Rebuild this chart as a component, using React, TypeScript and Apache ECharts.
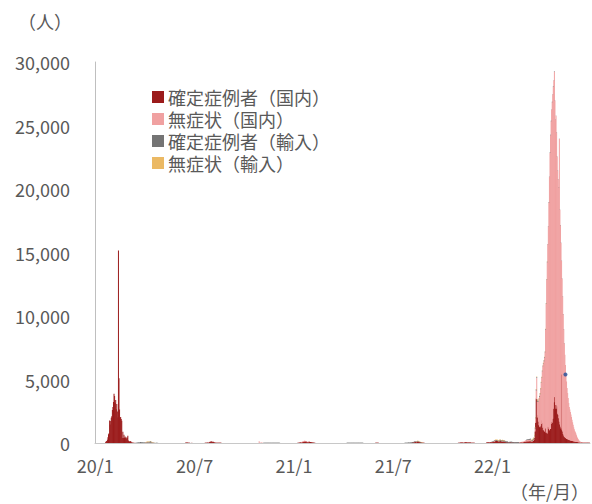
import React, { useEffect, useRef } from "react";
import * as echarts from "echarts";

// Daily series, one category per day
const FIRST_DAY = "2020-01-01";
const LAST_DAY = "2022-06-15";

const yMax = 30000;
const yStep = 5000;
const xTickLabels = ["20/1", "20/7", "21/1", "21/7", "22/1"];
const xTickEvery = 180;

const seriesNames = ["確定症例者（国内）", "無症状（国内）", "確定症例者（輸入）", "無症状（輸入）"];
const seriesColors = ["#9b1b1b", "#f0a1a1", "#747474", "#ebb964"];

// Each run: [first date, daily counts from that date on]
type Run = [string, number[]];

const domesticConfirmed: Run[] = [
  ["2020-01-20", [77, 149, 131, 259, 444, 688, 769, 1771, 1459, 1737, 1982, 2102, 2590, 2829, 3235, 3887, 3694, 3143, 3385, 2652, 3073, 2478, 2015, 15152, 5090, 2641, 2009, 2048, 1886, 1749, 394, 889, 397, 648, 409, 508, 406, 433, 327, 427, 573, 202, 125, 119, 139, 143, 99, 44, 40, 19, 24, 15, 8, 11, 1, 0, 4]],
  ["2020-06-11", [1, 6, 31, 36, 27, 31, 21, 25, 22, 13, 9, 7, 3, 11, 7, 5, 2, 2]],
  ["2020-07-18", [13, 22, 14, 17, 36, 21, 22, 43, 61, 98, 101, 112, 123, 96, 86, 94, 62, 41, 35, 27, 24, 21, 19, 14, 22, 20, 21, 13, 12, 11]],
  ["2021-01-02", [11, 17, 14, 24, 54, 40, 52, 41, 55, 69, 82, 107, 124, 130, 115, 109, 90, 63, 88, 68, 103, 99, 79, 71, 52, 53, 42, 31, 40, 22, 20, 10]],
  ["2021-05-21", [5, 9, 12, 15, 20, 14, 11, 10, 7, 5]],
  ["2021-07-28", [31, 48, 55, 40, 61, 75, 71, 85, 62, 80, 94, 108, 96, 81, 53, 58, 46, 39, 30, 28, 20, 21, 17, 9, 4]],
  ["2021-10-20", [13, 19, 28, 26, 35, 38, 39, 33, 48, 23, 26, 38, 47, 54, 74, 45, 46, 47, 45, 42, 35, 34, 31, 20, 19, 14, 23, 15, 19, 21]],
  ["2021-12-10", [47, 22, 50, 43, 57, 46, 38, 51, 55, 56, 65, 70, 72, 92, 108, 112, 168, 182, 158, 155, 151, 122, 118, 101, 168, 175, 131, 121, 97, 127, 110, 97, 104, 92, 78, 68, 56, 63, 61, 37, 33, 52, 43, 65, 63, 40, 44, 38, 45, 31, 29, 24, 21, 25, 26, 18, 23, 17, 24, 22, 25, 45, 47, 54, 68, 44, 71, 57, 74, 95, 101, 110, 117, 137, 135, 125, 137, 140, 143, 152, 147]],
  ["2022-03-01", [100, 110, 120, 150, 180, 250, 400, 900, 1600, 3500, 3450, 2000, 2200, 1700, 1400, 1300, 1250, 1350, 1800, 1500, 1600, 1200, 1000, 1300, 900, 1100, 1200, 800, 850, 750, 1300, 1250, 1100, 1000, 1150, 1100, 1500, 1700, 1600, 1900, 2700, 3200, 3650, 3600, 3000, 2700, 3000, 2900, 2300, 2200, 1950, 1700, 1450, 1300, 1150, 5420, 1000, 900, 700, 600, 500, 450, 400, 370, 340, 310, 290, 270, 250, 240, 220, 200, 190, 180, 170, 160, 140, 130, 120, 110, 100, 95, 90, 80, 70, 60, 55, 50, 45, 40, 35, 33, 30, 28, 25, 24, 22, 21, 20, 20, 18, 17, 16, 15, 14, 13, 12]],
];

const domesticAsymptomatic: Run[] = [
  ["2020-04-01", [47, 30, 39, 32, 27, 31, 29, 35, 27, 31, 19, 17, 21, 16, 24]],
  ["2020-10-24", [137, 26, 19, 22, 42, 18, 12, 8, 5]],
  ["2021-01-08", [31, 40, 35, 45, 53, 48, 52, 43, 38, 31, 29, 22, 17, 15, 12, 10]],
  ["2021-08-01", [20, 25, 17, 28, 31, 22, 19, 15, 13, 8]],
  ["2021-12-20", [20, 25, 31, 35, 40, 38, 29, 27, 25, 20, 18, 15, 14, 13, 12, 10, 15, 18, 20, 25, 30, 28, 22, 20]],
  ["2022-02-10", [20, 25, 30, 35, 41, 45, 52, 60, 70, 85, 90, 100, 110, 115, 120, 118, 121, 125, 130]],
  ["2022-03-01", [30, 40, 50, 60, 70, 90, 140, 240, 340, 640, 1690, 1240, 1140, 1540, 2040, 2340, 2590, 2890, 2940, 3640, 4040, 4840, 5240, 5140, 5840, 6040, 7740, 10140, 11990, 13490, 14340, 15790, 17840, 19940, 21690, 23140, 23840, 24540, 25240, 25540, 25340, 25340, 25590, 23340, 22440, 23040, 21440, 19640, 19140, 18540, 18190, 22240, 16890, 15840, 14590, 8920, 11940, 10640, 9440, 8340, 7340, 6490, 5740, 5070, 4500, 4030, 3650, 3270, 2890, 2600, 2420, 2240, 2050, 1860, 1670, 1480, 1300, 1110, 970, 830, 740, 645, 530, 420, 330, 260, 185, 130, 85, 50, 40, 30, 25, 20, 20, 20, 15, 10, 10, 10, 10, 10, 5, 5, 5, 5, 5]],
];

const importedConfirmed: Run[] = [
  ["2020-03-15", [12, 20, 12, 34, 39, 41, 39, 45, 74, 47, 67, 54, 44, 45, 30, 35, 35, 18, 25, 38, 32, 59, 61, 38, 42, 97, 98, 89, 36, 34, 24, 16, 12, 11, 8, 9, 15, 14, 7, 11]],
  ["2020-11-01", [21, 15, 23, 17, 21, 16, 19, 22, 25, 17, 12, 15, 16, 20, 11, 14, 13, 17, 25, 20, 21, 13, 12, 22, 16, 14, 12, 15, 13, 16]],
  ["2021-04-01", [15, 12, 13, 18, 20, 19, 22, 21, 10, 15, 20, 11, 17, 15, 22, 21, 14, 18, 11, 17, 20, 15, 13, 12, 16, 14, 18, 19, 17, 20]],
  ["2021-07-15", [20, 22, 18, 25, 27, 19, 31, 33, 28, 35, 40, 37, 44, 29, 35, 25, 31, 38, 41, 33, 29, 26, 30, 35, 28, 24, 27, 30, 22, 25, 20, 18]],
  ["2021-12-20", [28, 24, 37, 31, 42, 45, 39, 33, 46, 52, 48, 61, 55, 63, 59, 67, 70, 76, 58, 66, 72, 80, 69, 61, 58, 70, 62, 55, 60, 48, 51, 47, 42, 39, 44, 50, 56, 45, 41, 38, 40, 35, 47, 52, 49, 44, 58, 60, 53]],
  ["2022-02-20", [35, 40, 38, 45, 41, 52, 47, 55, 60, 58, 62, 66, 71, 78, 65, 60, 55, 61, 70, 58, 62, 66, 53, 49, 57, 60, 55, 48, 46, 52, 50, 44, 47, 41, 39, 42, 38, 35, 40, 37, 33, 30, 28, 31, 29, 34, 27, 25, 30, 26, 22, 28, 24, 21, 25, 23, 20, 22, 19, 18, 21, 17, 16, 18, 15, 14, 16, 13, 12, 15]],
];

const importedAsymptomatic: Run[] = [
  ["2020-04-01", [21, 25, 18, 29, 31, 24, 26, 20, 17, 14, 22, 19, 15, 12, 10, 9, 8, 7]],
  ["2021-08-05", [15, 19, 22, 17, 21, 24, 18, 16, 13, 20, 15, 12]],
  ["2021-12-25", [22, 28, 31, 27, 35, 38, 33, 41, 36, 29, 32, 27, 25, 30, 34, 28, 26, 22, 20, 18]],
  ["2022-03-01", [40, 45, 38, 52, 47, 43, 55, 50, 48, 36, 42, 39, 44, 37, 33, 30, 35, 28, 26, 31, 24, 22, 27, 20, 18, 23, 19, 17, 15, 16]],
];

// Single blue point marked near the late-April spike
const markedPoint: [string, number] = ["2022-05-02", 5400];

const DAY_MS = 86400000;
const toUtc = (s: string) => {
  const [y, m, d] = s.split("-").map(Number);
  return Date.UTC(y, m - 1, d);
};
const originUtc = toUtc(FIRST_DAY);
const dayIndex = (s: string) => Math.round((toUtc(s) - originUtc) / DAY_MS);
const dayCount = dayIndex(LAST_DAY) + 1;

const dates: string[] = Array.from({ length: dayCount }, (_, i) =>
  new Date(originUtc + i * DAY_MS).toISOString().slice(0, 10)
);

function dailyValues(runs: Run[]): number[] {
  const out = new Array(dayCount).fill(0);
  runs.forEach(([start, values]) => {
    const i0 = dayIndex(start);
    values.forEach((v, k) => {
      if (i0 + k < dayCount) out[i0 + k] += v;
    });
  });
  return out;
}

const FONT = '"Noto Sans CJK JP", "Noto Sans", sans-serif';
const TEXT = "#595959";

export default function App() {
  const ref = useRef<HTMLDivElement>(null);

  useEffect(() => {
    if (!ref.current) return;
    const chart = echarts.init(ref.current, undefined, { renderer: "svg" });
    const columns = [domesticConfirmed, domesticAsymptomatic, importedConfirmed, importedAsymptomatic];

    const barSeries = columns.map((runs, k) => ({
      name: seriesNames[k],
      type: "bar",
      stack: "all",
      barCategoryGap: "0%",
      barGap: "0%",
      silent: true,
      itemStyle: { color: seriesColors[k] },
      data: dailyValues(runs),
    }));

    chart.setOption({
      animation: false,
      textStyle: { fontFamily: FONT },
      grid: { left: 95, right: 2, top: 62, bottom: 61 },
      legend: {
        data: seriesNames,
        orient: "vertical",
        left: 152,
        top: 88,
        padding: 0,
        itemWidth: 12,
        itemHeight: 12,
        itemGap: 4,
        icon: "rect",
        selectedMode: false,
        textStyle: { fontFamily: FONT, fontSize: 18, lineHeight: 18, color: TEXT, padding: [0, 0, 0, -1] },
      },
      xAxis: {
        type: "category",
        data: dates,
        boundaryGap: true,
        axisLine: { lineStyle: { color: "#c8c8c8", width: 1 } },
        axisTick: { show: false },
        axisLabel: {
          interval: xTickEvery - 1,
          margin: 13,
          fontSize: 18,
          color: TEXT,
          fontFamily: FONT,
          formatter: (_v: string, idx: number) => xTickLabels[Math.round(idx / xTickEvery)] ?? "",
        },
        splitLine: { show: false },
      },
      yAxis: {
        type: "value",
        min: 0,
        max: yMax,
        interval: yStep,
        axisLine: { show: true, lineStyle: { color: "#bfbfbf", width: 1 } },
        axisTick: { show: false },
        splitLine: { show: false },
        axisLabel: {
          margin: 25,
          fontSize: 18,
          color: TEXT,
          fontFamily: FONT,
          formatter: (v: number) => v.toLocaleString("en-US"),
        },
      },
      graphic: [
        {
          type: "text",
          left: 18,
          top: 12,
          style: { text: "（人）", fontSize: 18, lineHeight: 18, fill: TEXT, fontFamily: FONT },
        },
        {
          type: "text",
          right: 3,
          top: 482,
          style: { text: "（年/月）", fontSize: 18, lineHeight: 18, fill: TEXT, fontFamily: FONT },
        },
      ],
      series: [
        ...barSeries,
        {
          type: "scatter",
          silent: true,
          symbol: "circle",
          symbolSize: 4,
          itemStyle: { color: "#1f4e9a" },
          data: [markedPoint],
          z: 5,
        },
      ],
    });

    return () => chart.dispose();
  }, []);

  return <div ref={ref} style={{ position: "absolute", left: 0, top: 0, width: 592, height: 504 }} />;
}
